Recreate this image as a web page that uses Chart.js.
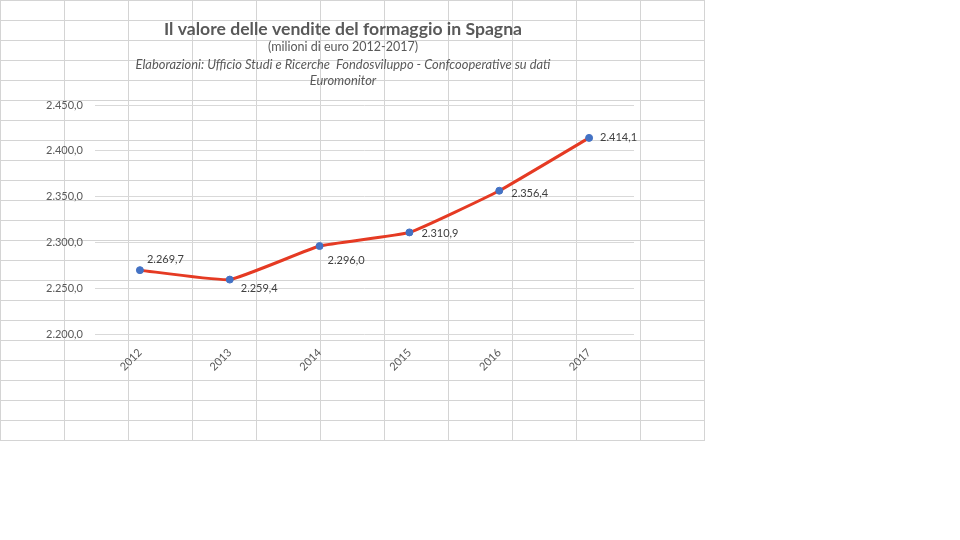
<!DOCTYPE html>
<html>
<head>
<meta charset="utf-8">
<script src="https://cdn.jsdelivr.net/npm/chart.js@4.4.1/dist/chart.umd.min.js"></script>
<style>
  html, body { margin: 0; padding: 0; background: #fff; }
  #sheet {
    position: absolute; left: 0; top: 0; width: 705px; height: 441px;
    background-image:
      linear-gradient(to right, #d4d4d4 1px, transparent 1px),
      linear-gradient(to bottom, #d4d4d4 1px, transparent 1px);
    background-size: 64px 20px;
  }
  #wrap { position: absolute; left: 0; top: 0; width: 705px; height: 440px; }
</style>
</head>
<body>
<div id="sheet"></div>
<div id="wrap"><canvas id="cheeseChart"></canvas></div>
<script>
const years = ['2012', '2013', '2014', '2015', '2016', '2017'];
const salesValue = [2269.7, 2259.4, 2296.0, 2310.9, 2356.4, 2414.1];
const yTicks = [2200, 2250, 2300, 2350, 2400, 2450];

const titleText = 'Il valore delle vendite del formaggio in Spagna';
const subText = '(milioni di euro 2012-2017)';
const sourceLines = ['Elaborazioni: Ufficio Studi e Ricerche  Fondosviluppo - Confcooperative su dati', 'Euromonitor'];

// where each value label sits relative to its point (Excel placed them by hand)
const labelNudge = [[7, -11], [11, 9], [8, 14], [12, 1], [12, 3], [11, 0]];

const textGrey = '#595959';
const font = 'Lato, "Open Sans", sans-serif';

// 2450 -> "2.450,0"
const fmt = v => {
  const parts = v.toFixed(1).split('.');
  return parts[0].replace(/\B(?=(\d{3})+(?!\d))/g, '.') + ',' + parts[1];
};

const headerPlugin = {
  id: 'header',
  afterDraw(chart) {
    const ctx = chart.ctx;
    const cx = 343;
    ctx.save();
    ctx.textAlign = 'center';
    ctx.textBaseline = 'middle';
    ctx.fillStyle = textGrey;
    ctx.font = 'bold 17.6px ' + font;
    ctx.fillText(titleText, cx, 29);
    ctx.font = '12.5px ' + font;
    ctx.fillText(subText, cx, 47);
    ctx.font = 'italic 12.9px ' + font;
    ctx.fillText(sourceLines[0], cx, 65);
    ctx.fillText(sourceLines[1], cx, 81);
    ctx.restore();
  }
};

const valueLabels = {
  id: 'valueLabels',
  afterDatasetsDraw(chart) {
    const ctx = chart.ctx;
    const meta = chart.getDatasetMeta(0);
    ctx.save();
    ctx.font = '11px ' + font;
    ctx.fillStyle = '#404040';
    ctx.textAlign = 'left';
    ctx.textBaseline = 'middle';
    meta.data.forEach((pt, i) => {
      const n = labelNudge[i];
      ctx.fillText(fmt(salesValue[i]), pt.x + n[0], pt.y + n[1]);
    });
    ctx.restore();
  }
};

new Chart(document.getElementById('cheeseChart'), {
  type: 'line',
  data: {
    labels: years,
    datasets: [{
      data: salesValue,
      borderColor: '#E53A23',
      borderWidth: 3,
      pointRadius: 3.5,
      pointBackgroundColor: '#4472C4',
      pointBorderColor: '#4472C4',
      pointBorderWidth: 1,
      tension: 0.12,
      fill: false
    }]
  },
  options: {
    responsive: true,
    maintainAspectRatio: false,
    animation: false,
    layout: { padding: { top: 105, right: 71, bottom: 0, left: 0 } },
    plugins: {
      legend: { display: false },
      tooltip: { enabled: false }
    },
    scales: {
      x: {
        offset: true,
        grid: { display: false, drawTicks: false },
        border: { display: false },
        ticks: {
          color: textGrey,
          font: { family: font, size: 11 },
          minRotation: 45,
          maxRotation: 45,
          padding: 12
        },
        afterFit(scale) { scale.height = 106; }
      },
      y: {
        min: 2200,
        max: 2450,
        afterBuildTicks(scale) { scale.ticks = yTicks.map(v => ({ value: v })); },
        grid: { color: '#d9d9d9', lineWidth: 1, drawTicks: false },
        border: { display: false },
        ticks: {
          color: textGrey,
          font: { family: font, size: 11 },
          padding: 12,
          callback: v => fmt(v)
        },
        afterFit(scale) { scale.width = 95; }
      }
    }
  },
  plugins: [headerPlugin, valueLabels]
});
</script>
</body>
</html>
